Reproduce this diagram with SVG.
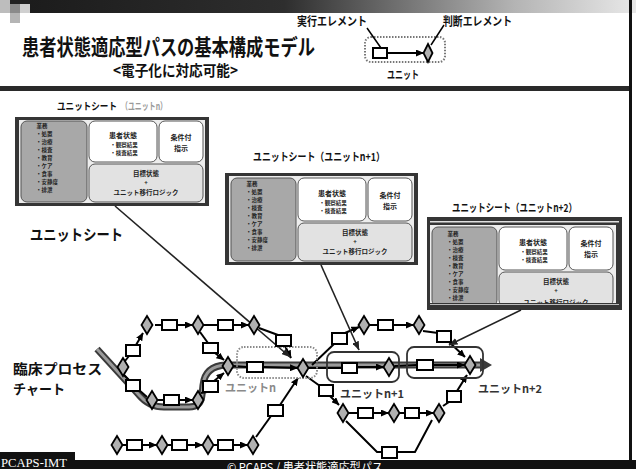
<svg xmlns="http://www.w3.org/2000/svg" width="636" height="469" viewBox="0 0 636 469">
<defs>
<linearGradient id="topbar" x1="30" y1="0" x2="636" y2="0" gradientUnits="userSpaceOnUse">
<stop offset="0" stop-color="#1c1c1c"/>
<stop offset="0.42" stop-color="#2e2e2e"/>
<stop offset="0.8" stop-color="#b4b4b4"/>
<stop offset="1" stop-color="#e8e8e8"/>
</linearGradient>
<marker id="ah" markerUnits="userSpaceOnUse" markerWidth="8" markerHeight="7" refX="7.5" refY="3.5" orient="auto">
<path d="M0,0 L8,3.5 L0,7 z" fill="#000"/>
</marker>
<marker id="ah2" markerUnits="userSpaceOnUse" markerWidth="9" markerHeight="7" refX="8.5" refY="3.5" orient="auto">
<path d="M0,0 L9,3.5 L0,7 z" fill="#222"/>
</marker>
</defs>
<style>
text{font-family:"Noto Sans CJK JP","Noto Sans",sans-serif;font-weight:bold;fill:#111}
.m{text-anchor:middle}
.sq{fill:#fff;stroke:#000;stroke-width:2}
.dm{fill:#b0b0b0;stroke:#000;stroke-width:1.8}
.ln{fill:none;stroke:#000;stroke-width:2}
.ar{fill:none;stroke:#000;stroke-width:2;marker-end:url(#ah)}
.sl{fill:none;stroke:#222;stroke-width:1.6;marker-end:url(#ah2)}
.frame{fill:#353535}
.inner{fill:#ededed}
.bxL{fill:#a8a8a8;stroke:#555;stroke-width:1}
.bxW{fill:#fff;stroke:#555;stroke-width:1}
.bxB{fill:#e2e2e2;stroke:#555;stroke-width:1}
.s5{font-size:5.5px;fill:#222}
.s6{font-size:6px;fill:#222}
.s65{font-size:6.5px;fill:#222}
.s7{font-size:7px;fill:#222}
.ubox{fill:none;stroke:#333;stroke-width:1.8}
.ulab{font-size:11px;fill:#333}
</style>

<rect width="636" height="469" fill="#fff"/>

<g id="header">
<rect x="30" y="0" width="606" height="13" fill="url(#topbar)"/>
<rect x="0" y="0" width="10" height="13" fill="#bdbdbd"/>
<rect x="10" y="0" width="20" height="4" fill="#222"/>
<rect x="10" y="4" width="10" height="9" fill="#8a8a8a"/>
<rect x="20" y="4" width="10" height="9" fill="#d0d0d0"/>
<rect x="10" y="13" width="10" height="10" fill="#b5b5b5"/>
<text x="22" y="55" font-size="22" textLength="293" lengthAdjust="spacingAndGlyphs">患者状態適応型パスの基本構成モデル</text>
<text x="113" y="76" font-size="15" textLength="125" lengthAdjust="spacingAndGlyphs">&lt;電子化に対応可能&gt;</text>
<rect x="0" y="86" width="632" height="5" fill="#2a2a2a"/>
<rect x="629" y="0" width="3" height="460" fill="#111"/>
</g>

<g id="legend">
<text x="297" y="26" font-size="12" textLength="70" lengthAdjust="spacingAndGlyphs">実行エレメント</text>
<text x="443" y="26" font-size="12" textLength="69" lengthAdjust="spacingAndGlyphs">判断エレメント</text>
<rect x="365" y="37" width="80" height="25" rx="6" fill="none" stroke="#777" stroke-width="2" stroke-dasharray="1.5 1.5"/>
<line x1="367" y1="28" x2="381" y2="48" stroke="#000" stroke-width="1.5"/>
<line x1="444" y1="25" x2="431" y2="45" stroke="#000" stroke-width="1.5"/>
<rect class="sq" x="373" y="48" width="14" height="10"/>
<line class="ar" x1="387" y1="53" x2="423.5" y2="53"/>
<polygon class="dm" points="428,44 432.5,53 428,62 423.5,53"/>
<text x="387" y="79" font-size="11" textLength="32" lengthAdjust="spacingAndGlyphs">ユニット</text>
</g>

<g id="sheet-n" transform="translate(15,117)">
<text x="42" y="-7" font-size="10" textLength="60" lengthAdjust="spacingAndGlyphs">ユニットシート</text>
<text x="106" y="-7" font-size="10" textLength="46" lengthAdjust="spacingAndGlyphs" style="fill:#9a9a9a">（ユニットn）</text>
<rect class="frame" width="194" height="89"/>
<rect class="inner" x="4" y="3" width="186" height="83"/>
<rect class="bxL" x="6" y="4" width="66" height="81" rx="6"/>
<rect class="bxW" x="74" y="4" width="68" height="41" rx="6"/>
<rect class="bxW" x="144" y="4" width="44" height="41" rx="6"/>
<rect class="bxB" x="74" y="47" width="114" height="38" rx="6"/>
<text class="s5 m" x="27" y="11">業務</text>
<text class="s5" x="21" y="19">・処置</text>
<text class="s5" x="21" y="27">・治療</text>
<text class="s5" x="21" y="35">・検査</text>
<text class="s5" x="21" y="43">・教育</text>
<text class="s5" x="21" y="51">・ケア</text>
<text class="s5" x="21" y="59">・食事</text>
<text class="s5" x="21" y="67">・安静度</text>
<text class="s5" x="21" y="75">・排泄</text>
<text class="s7 m" x="108" y="21">患者状態</text>
<text class="s5 m" x="109" y="30">・観察結果</text>
<text class="s5 m" x="109" y="38">・検査結果</text>
<text class="s7 m" x="166" y="23">条件付</text>
<text class="s7 m" x="166" y="33.5">指示</text>
<text class="s65 m" x="131" y="59">目標状態</text>
<text class="s6 m" x="131" y="68">+</text>
<text class="s65 m" x="131" y="77.5">ユニット移行ロジック</text>
</g>

<g id="sheet-n1" transform="translate(225,173)">
<text x="28" y="-12" font-size="11" textLength="132" lengthAdjust="spacingAndGlyphs">ユニットシート（ユニットn+1）</text>
<rect class="frame" width="193" height="92"/>
<rect class="inner" x="4" y="3" width="185" height="86"/>
<rect class="bxL" x="6" y="5" width="65" height="83" rx="6"/>
<rect class="bxW" x="73" y="5" width="68" height="43" rx="6"/>
<rect class="bxW" x="143" y="5" width="44" height="43" rx="6"/>
<rect class="bxB" x="73" y="50" width="114" height="38" rx="6"/>
<text class="s5 m" x="27" y="13">業務</text>
<text class="s5" x="21" y="21">・処置</text>
<text class="s5" x="21" y="29">・治療</text>
<text class="s5" x="21" y="37">・検査</text>
<text class="s5" x="21" y="45">・教育</text>
<text class="s5" x="21" y="53">・ケア</text>
<text class="s5" x="21" y="61">・食事</text>
<text class="s5" x="21" y="69">・安静度</text>
<text class="s5" x="21" y="77">・排泄</text>
<text class="s7 m" x="107" y="23">患者状態</text>
<text class="s5 m" x="108" y="32">・観察結果</text>
<text class="s5 m" x="108" y="40">・検査結果</text>
<text class="s7 m" x="165" y="25">条件付</text>
<text class="s7 m" x="165" y="35.5">指示</text>
<text class="s65 m" x="130" y="62">目標状態</text>
<text class="s6 m" x="130" y="71">+</text>
<text class="s65 m" x="130" y="80.5">ユニット移行ロジック</text>
</g>

<g id="sheet-n2" transform="translate(427,217)">
<text x="25" y="-5" font-size="11" textLength="125" lengthAdjust="spacingAndGlyphs">ユニットシート（ユニットn+2）</text>
<rect class="frame" width="195" height="93"/>
<rect x="3" y="4" width="189" height="1.5" fill="#e0e0e0"/>
<rect class="inner" x="3" y="8" width="186" height="80"/>
<rect class="bxL" x="5" y="10" width="65" height="79" rx="6"/>
<rect class="bxW" x="72" y="10" width="68" height="43" rx="6"/>
<rect class="bxW" x="142" y="10" width="44" height="43" rx="6"/>
<rect class="bxB" x="72" y="55" width="114" height="34" rx="6"/>
<text class="s5 m" x="26" y="19">業務</text>
<text class="s5" x="20" y="27">・処置</text>
<text class="s5" x="20" y="35">・治療</text>
<text class="s5" x="20" y="43">・検査</text>
<text class="s5" x="20" y="51">・教育</text>
<text class="s5" x="20" y="59">・ケア</text>
<text class="s5" x="20" y="67">・食事</text>
<text class="s5" x="20" y="75">・安静度</text>
<text class="s5" x="20" y="83">・排泄</text>
<text class="s7 m" x="106" y="28">患者状態</text>
<text class="s5 m" x="107" y="37">・観察結果</text>
<text class="s5 m" x="107" y="45">・検査結果</text>
<text class="s7 m" x="164" y="29">条件付</text>
<text class="s7 m" x="164" y="39.5">指示</text>
<text class="s65 m" x="129" y="67">目標状態</text>
<text class="s6 m" x="129" y="76">+</text>
<text class="s65 m" x="129" y="88">ユニット移行ロジック</text>
<rect class="frame" x="0" y="86" width="195" height="7"/>
<rect x="3" y="87" width="189" height="1" fill="#bbb"/>
</g>

<g id="labels">
<text x="30" y="240" font-size="15" textLength="93" lengthAdjust="spacingAndGlyphs">ユニットシート</text>
<text x="13" y="374" font-size="13.5" textLength="89" lengthAdjust="spacingAndGlyphs">臨床プロセス</text>
<text x="13" y="394" font-size="13.5" textLength="52" lengthAdjust="spacingAndGlyphs">チャート</text>
</g>

<g id="process-band">
<path d="M97,349 L139,395 Q149,407 164,407 L189,407 Q201,407 202,395 L203,385 Q205,366 226,365 L482,365" fill="none" stroke="#3a3a3a" stroke-width="7"/>
<path d="M97,349 L139,395 Q149,407 164,407 L189,407 Q201,407 202,395 L203,385 Q205,366 226,365 L482,365" fill="none" stroke="#9a9a9a" stroke-width="3"/>
<polygon points="480,358 492,365 480,372" fill="#3a3a3a"/>
</g>

<g id="connectors">
<line class="ln" x1="155" y1="325" x2="162" y2="325"/>
<line class="ar" x1="177" y1="325" x2="192.5" y2="325"/>
<line class="ln" x1="203.5" y1="325" x2="218" y2="325"/>
<line class="ar" x1="233" y1="325" x2="248.5" y2="325"/>
<line class="ln" x1="259" y1="328" x2="278" y2="335"/>
<line class="ar" x1="285" y1="346" x2="291" y2="358"/>
<line class="ln" x1="200" y1="332" x2="208" y2="343"/>
<line class="ar" x1="215" y1="353" x2="224" y2="360"/>
<line class="ln" x1="233.5" y1="366" x2="247" y2="367"/>
<line class="ar" x1="263" y1="367" x2="297.5" y2="368"/>
<line class="ln" x1="125" y1="361" x2="129" y2="356"/>
<line class="ar" x1="136" y1="345" x2="143" y2="333"/>
<line class="ln" x1="124" y1="375" x2="129" y2="380"/>
<line class="ln" x1="139" y1="390" x2="147" y2="397"/>
<line class="ln" x1="157.5" y1="400" x2="164" y2="400"/>
<line class="ar" x1="179" y1="400" x2="192.5" y2="400"/>
<line class="ln" x1="201" y1="393" x2="207" y2="392"/>
<line class="ar" x1="214" y1="381" x2="224" y2="373"/>
<line class="ln" x1="122.5" y1="445" x2="127" y2="445"/>
<line class="ar" x1="142" y1="445" x2="156.5" y2="445"/>
<line class="ln" x1="167.5" y1="445" x2="172" y2="445"/>
<line class="ar" x1="187" y1="445" x2="202.5" y2="445"/>
<line class="ln" x1="213.5" y1="445" x2="218" y2="445"/>
<line class="ar" x1="233" y1="445" x2="247.5" y2="445"/>
<line class="ln" x1="256" y1="437" x2="271" y2="416"/>
<line class="ar" x1="280" y1="405" x2="298" y2="378"/>
<line class="ln" x1="308.5" y1="368" x2="342" y2="368"/>
<line class="ar" x1="357" y1="367" x2="383.5" y2="367"/>
<line class="ln" x1="394.5" y1="366" x2="417" y2="365"/>
<line class="ar" x1="433" y1="365" x2="464.5" y2="365"/>
<line class="ln" x1="312" y1="365" x2="334" y2="344"/>
<line class="ar" x1="345" y1="333" x2="359" y2="327"/>
<line class="ln" x1="370" y1="325" x2="378" y2="325"/>
<line class="ar" x1="393" y1="325" x2="413.5" y2="325"/>
<line class="ln" x1="423" y1="331" x2="438" y2="333"/>
<line class="ar" x1="449" y1="342" x2="465" y2="357"/>
<line class="ln" x1="306" y1="376" x2="320" y2="386"/>
<line class="ar" x1="330" y1="396" x2="339" y2="405"/>
<line class="ln" x1="348.5" y1="413" x2="358" y2="413"/>
<line class="ar" x1="373" y1="413" x2="388.5" y2="413"/>
<line class="ln" x1="399.5" y1="413" x2="405" y2="413"/>
<line class="ar" x1="419" y1="413" x2="433.5" y2="413"/>
<line class="ln" x1="443" y1="406" x2="449" y2="402"/>
<line class="ar" x1="457" y1="391" x2="467" y2="375"/>
<polyline class="ln" points="346,421 377,452 415,452 432,420"/>
<line class="sl" x1="115" y1="206" x2="290" y2="357"/>
<line class="sl" x1="321" y1="265" x2="359" y2="350"/>
<line class="sl" x1="521" y1="310" x2="449" y2="345"/>
</g>

<g id="unit-n">
<rect x="237" y="347" width="80" height="31" rx="7" fill="none" stroke="#8a8a8a" stroke-width="2" stroke-dasharray="1.5 1.5"/>
<rect class="sq" x="247" y="362" width="16" height="10"/>
<polygon class="dm" points="303,359 308.5,368 303,377 297.5,368"/>
<text x="225" y="392" font-size="11" style="fill:#8a8a8a">ユニットn</text>
</g>
<g id="unit-n1">
<rect class="ubox" x="327" y="352" width="72" height="30" rx="7"/>
<rect class="sq" x="342" y="363" width="15" height="10"/>
<polygon class="dm" points="389,358 394.5,367 389,376 383.5,367"/>
<text class="ulab" x="340" y="398">ユニットn+1</text>
</g>
<g id="unit-n2">
<rect class="ubox" x="407" y="347" width="76" height="31" rx="7"/>
<rect class="sq" x="417" y="360" width="16" height="10"/>
<polygon class="dm" points="470,356 475.5,365 470,374 464.5,365"/>
<text class="ulab" x="478" y="393">ユニットn+2</text>
</g>

<g id="d1"><polygon class="dm" points="147,316 152.5,325 147,334 141.5,325"/></g>
<g id="s1"><rect class="sq" x="162" y="320" width="15" height="10"/></g>
<g id="d2"><polygon class="dm" points="198,316 203.5,325 198,334 192.5,325"/></g>
<g id="s2"><rect class="sq" x="218" y="320" width="15" height="10"/></g>
<g id="d3"><polygon class="dm" points="254,316 259.5,325 254,334 248.5,325"/></g>
<g id="s3"><rect class="sq" x="276" y="335" width="15" height="11"/></g>
<g id="d0"><polygon class="dm" points="123,358 128.5,367 123,376 117.5,367"/></g>
<g id="s5"><rect class="sq" x="126" y="345" width="14" height="11"/></g>
<g id="s6"><rect class="sq" x="126" y="380" width="14" height="11"/></g>
<g id="d5"><polygon class="dm" points="152,391 157.5,400 152,409 146.5,400"/></g>
<g id="s7"><rect class="sq" x="164" y="395" width="15" height="10"/></g>
<g id="d6"><polygon class="dm" points="198,391 203.5,400 198,409 192.5,400"/></g>
<g id="s8"><rect class="sq" x="203" y="381" width="15" height="11"/></g>
<g id="s4"><rect class="sq" x="203" y="343" width="15" height="10"/></g>
<g id="d4"><polygon class="dm" points="228,357 233.5,366 228,375 222.5,366"/></g>
<g id="d7"><polygon class="dm" points="117,436 122.5,445 117,454 111.5,445"/></g>
<g id="s9"><rect class="sq" x="127" y="440" width="15" height="10"/></g>
<g id="d8"><polygon class="dm" points="162,436 167.5,445 162,454 156.5,445"/></g>
<g id="s10"><rect class="sq" x="172" y="440" width="15" height="10"/></g>
<g id="d9"><polygon class="dm" points="208,436 213.5,445 208,454 202.5,445"/></g>
<g id="s11"><rect class="sq" x="218" y="440" width="15" height="10"/></g>
<g id="d10"><polygon class="dm" points="253,436 258.5,445 253,454 247.5,445"/></g>
<g id="s12"><rect class="sq" x="268" y="405" width="15" height="11"/></g>
<g id="s13"><rect class="sq" x="332" y="333" width="15" height="11"/></g>
<g id="d11"><polygon class="dm" points="364,316 369.5,325 364,334 358.5,325"/></g>
<g id="s14"><rect class="sq" x="378" y="320" width="15" height="10"/></g>
<g id="d12"><polygon class="dm" points="419,316 424.5,325 419,334 413.5,325"/></g>
<g id="s15"><rect class="sq" x="437" y="331" width="14" height="11"/></g>
<g id="s16"><rect class="sq" x="319" y="385" width="14" height="11"/></g>
<g id="d13"><polygon class="dm" points="343,404 348.5,413 343,422 337.5,413"/></g>
<g id="s17"><rect class="sq" x="358" y="408" width="15" height="10"/></g>
<g id="d14"><polygon class="dm" points="394,404 399.5,413 394,422 388.5,413"/></g>
<g id="s18"><rect class="sq" x="405" y="408" width="14" height="10"/></g>
<g id="d15"><polygon class="dm" points="439,404 444.5,413 439,422 433.5,413"/></g>
<g id="s19"><rect class="sq" x="447" y="391" width="14" height="11"/></g>
<g id="s20"><rect class="sq" x="382" y="447" width="15" height="11"/></g>

<g id="footer">
<rect x="0" y="460" width="636" height="9" fill="#111"/>
<rect x="0" y="452" width="75" height="17" fill="#111"/>
<text x="1" y="467" font-size="12" textLength="66" lengthAdjust="spacingAndGlyphs" style="font-family:'Liberation Serif',serif;font-weight:normal;fill:#fff">PCAPS-IMT</text>
<text x="227" y="472" font-size="12" textLength="156" lengthAdjust="spacingAndGlyphs" style="fill:#fff;font-weight:normal">© PCAPS / 患者状態適応型パス</text>
</g>
</svg>
